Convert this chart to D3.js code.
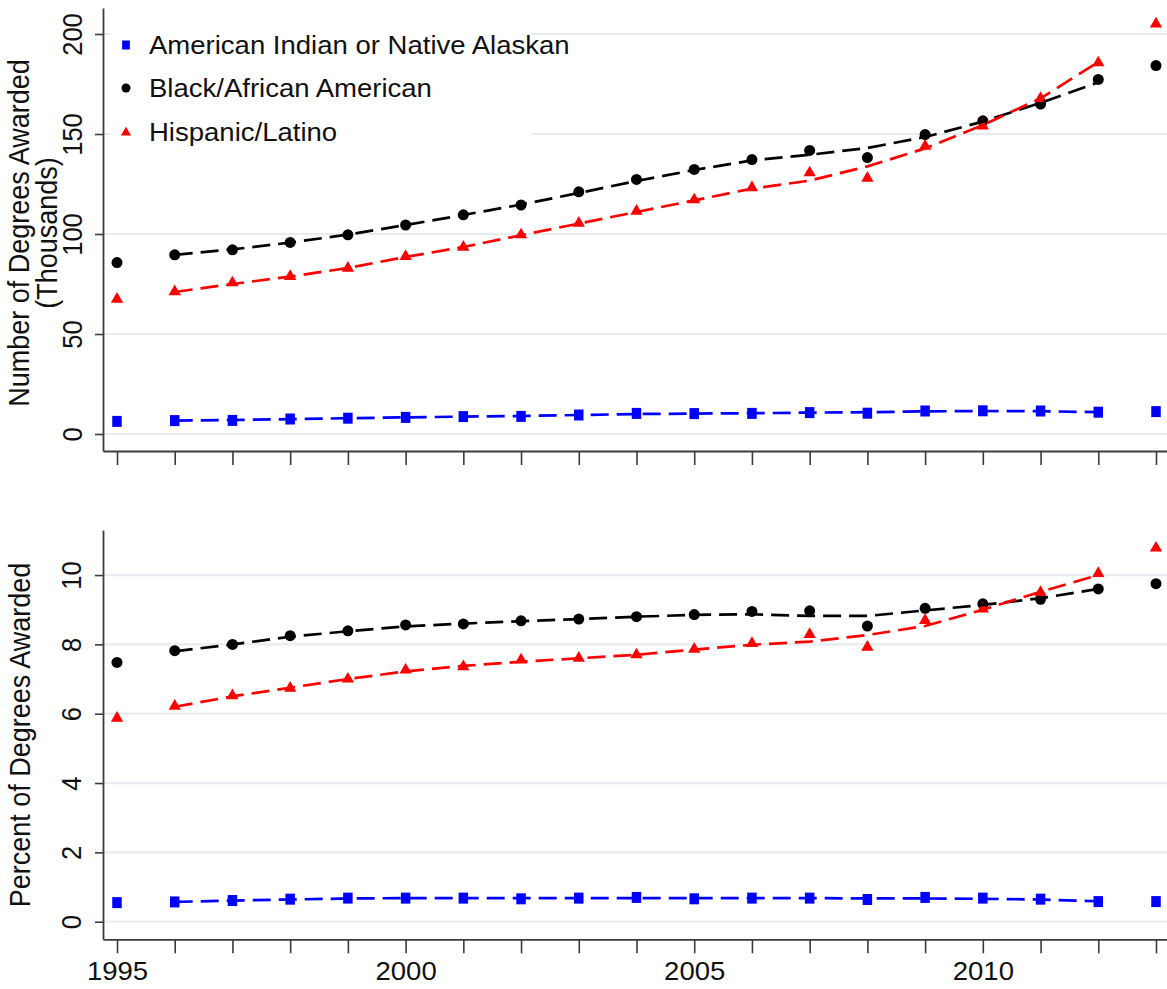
<!DOCTYPE html>
<html>
<head>
<meta charset="utf-8">
<script src="https://cdn.jsdelivr.net/npm/d3@7"></script>
<style>
  html, body { margin: 0; padding: 0; background: #fff; }
  svg { display: block; }
  text { font-family: "Liberation Sans", Arial, Helvetica, sans-serif; fill: #111; }
</style>
</head>
<body>
<svg id="chart" width="1167" height="989"></svg>
<script>
// ---- Data: degrees awarded by race/ethnicity, 1995-2013 ----
const years = [1995, 1996, 1997, 1998, 1999, 2000, 2001, 2002, 2003, 2004,
               2005, 2006, 2007, 2008, 2009, 2010, 2011, 2012, 2013];
const trendYears = [1996, 1997, 1998, 1999, 2000, 2001, 2002, 2003, 2004,
                    2005, 2006, 2007, 2008, 2009, 2010, 2011, 2012];

const seriesNames = ["American Indian or Native Alaskan", "Black/African American", "Hispanic/Latino"];

// Number of degrees awarded (thousands)
const countAIAN     = [6.3, 6.7, 6.8, 7.5, 7.9, 8.3, 8.7, 8.8, 9.5, 10.3, 10.2, 10.3, 10.7, 10.4, 11.5, 11.6, 11.5, 10.9, 11.2];
const countBlack    = [85.7, 89.6, 92.1, 95.8, 99.6, 104.5, 109.6, 114.5, 121.1, 127.3, 132.3, 137.2, 141.8, 138.2, 149.7, 156.6, 165.0, 177.3, 184.2];
const countHispanic = [67.4, 71.2, 75.6, 78.8, 82.9, 88.8, 93.4, 99.6, 105.4, 111.4, 117.1, 123.2, 130.6, 127.9, 143.9, 154.0, 167.8, 185.6, 205.0];

// Smoothed trend of the counts
const countAIANTrend     = [6.7, 7.0, 7.4, 7.9, 8.3, 8.7, 9.0, 9.5, 10.0, 10.2, 10.4, 10.7, 10.9, 11.3, 11.5, 11.4, 10.9];
const countBlackTrend    = [89.6, 92.3, 95.7, 99.7, 104.5, 109.5, 114.7, 120.5, 126.5, 132.0, 136.8, 139.6, 143.0, 148.5, 156.2, 165.6, 175.8];
const countHispanicTrend = [71.0, 75.0, 78.7, 83.0, 88.5, 93.5, 99.4, 105.2, 111.0, 116.8, 122.7, 126.7, 133.8, 142.8, 154.5, 167.8, 186.0];

// Percent of all degrees awarded
const pctAIAN     = [0.55, 0.57, 0.61, 0.65, 0.68, 0.68, 0.68, 0.66, 0.68, 0.70, 0.66, 0.68, 0.68, 0.64, 0.70, 0.68, 0.65, 0.58, 0.58];
const pctBlack    = [7.48, 7.82, 8.00, 8.25, 8.39, 8.56, 8.59, 8.68, 8.73, 8.80, 8.86, 8.95, 8.97, 8.53, 9.04, 9.17, 9.30, 9.60, 9.75];
const pctHispanic = [5.87, 6.22, 6.52, 6.74, 7.00, 7.26, 7.36, 7.55, 7.60, 7.70, 7.86, 8.03, 8.29, 7.92, 8.69, 9.02, 9.50, 10.05, 10.78];

// Smoothed trend of the percentages
const pctAIANTrend     = [0.57, 0.61, 0.64, 0.67, 0.68, 0.68, 0.68, 0.68, 0.68, 0.68, 0.68, 0.68, 0.67, 0.67, 0.66, 0.64, 0.59];
const pctBlackTrend    = [7.80, 8.00, 8.22, 8.38, 8.52, 8.60, 8.67, 8.73, 8.80, 8.85, 8.87, 8.82, 8.82, 8.98, 9.14, 9.33, 9.60];
const pctHispanicTrend = [6.20, 6.50, 6.75, 7.00, 7.22, 7.38, 7.50, 7.60, 7.70, 7.85, 7.99, 8.08, 8.27, 8.53, 9.00, 9.52, 10.00];

const countTicks = [0, 50, 100, 150, 200];
const pctTicks = [0, 2, 4, 6, 8, 10];
const yearLabels = [1995, 2000, 2005, 2010];

// ---- Layout ----
const svg = d3.select("#chart");
const W = 1167;
const axisX = 103;
const stretch = 1.08; // horizontal text stretch

const colors = ["#0000ff", "#000000", "#ff0000"];
const gridColor = "#e5edf1";
const axisColor = "#3c3c3c";

const x = d3.scaleLinear().domain([1995, 2013]).range([117, 1156]);
const xFull = x.copy().domain([x.invert(axisX), x.invert(W)]).range([axisX, W]);

const panels = [
  {
    y: d3.scaleLinear().domain([-8.5, 213]).range([451, 8]),
    ticks: countTicks,
    values: [countAIAN, countBlack, countHispanic],
    trends: [countAIANTrend, countBlackTrend, countHispanicTrend],
    showYearLabels: false,
    titles: [{ text: "Number of Degrees Awarded", x: 29 }, { text: "(Thousands)", x: 57 }],
    titleY: 233,
    tickLabelOffset: 21
  },
  {
    y: d3.scaleLinear().domain([-0.508, 11.3]).range([939.3, 530]),
    ticks: pctTicks,
    values: [pctAIAN, pctBlack, pctHispanic],
    trends: [pctAIANTrend, pctBlackTrend, pctHispanicTrend],
    showYearLabels: true,
    titles: [{ text: "Percent of Degrees Awarded", x: 30 }],
    titleY: 735,
    tickLabelOffset: 22
  }
];

// Marker shapes
function marker(sel, kind, scale) {
  const s = scale || 1;
  if (kind === 0) {
    const w = 9.5 * s, h = 11 * s;
    sel.append("rect").attr("x", -w / 2).attr("y", -h / 2).attr("width", w).attr("height", h)
      .attr("fill", colors[0]);
  } else if (kind === 1) {
    sel.append("circle").attr("r", 5.5 * s).attr("fill", colors[1]);
  } else {
    sel.append("path").attr("d", d3.symbol(d3.symbolTriangle, 66 * s * s)()).attr("fill", colors[2]);
  }
}

panels.forEach(p => {
  const g = svg.append("g");
  const yBottom = p.y.range()[0];

  // gridlines
  g.append("g").selectAll("line").data(p.ticks).join("line")
    .attr("x1", axisX).attr("x2", W)
    .attr("y1", d => p.y(d)).attr("y2", d => p.y(d))
    .attr("stroke", gridColor).attr("stroke-width", 2.2);

  // y axis
  const yAxis = g.append("g").attr("transform", `translate(${axisX},0)`)
    .call(d3.axisLeft(p.y).tickValues(p.ticks).tickSize(8).tickSizeOuter(0));
  yAxis.select(".domain").attr("stroke", axisColor).attr("stroke-width", 1.8);
  yAxis.selectAll(".tick line").attr("stroke", axisColor).attr("stroke-width", 1.6);
  yAxis.selectAll(".tick text")
    .attr("x", null).attr("dy", null)
    .attr("text-anchor", "middle")
    .attr("transform", `translate(${-p.tickLabelOffset},0) rotate(-90) scale(1,${stretch})`)
    .style("font-size", "25.5px").style("fill", "#111");

  // x axis
  const xAxis = g.append("g").attr("transform", `translate(0,${yBottom})`)
    .call(d3.axisBottom(xFull).tickValues(years).tickSize(14).tickSizeOuter(0)
      .tickFormat(d => (p.showYearLabels && yearLabels.includes(d)) ? String(d) : ""));
  xAxis.select(".domain").attr("stroke", axisColor).attr("stroke-width", 1.8);
  xAxis.selectAll(".tick line").attr("stroke", axisColor).attr("stroke-width", 1.6);
  xAxis.selectAll(".tick text")
    .attr("y", null).attr("dy", null)
    .attr("transform", `translate(0,41) scale(${stretch},1)`)
    .style("font-size", "25.5px").style("fill", "#111");

  // axis titles
  p.titles.forEach(t => {
    g.append("text")
      .attr("text-anchor", "middle")
      .attr("transform", `translate(${t.x},${p.titleY}) rotate(-90) scale(1,${stretch})`)
      .style("font-size", "27px")
      .text(t.text);
  });

  // markers
  p.values.forEach((vals, k) => {
    g.append("g").selectAll("g").data(years).join("g")
      .attr("transform", (d, i) => `translate(${x(d)},${p.y(vals[i])})`)
      .each(function () { marker(d3.select(this), k, 1); });
  });

  // dashed trend lines
  p.trends.forEach((vals, k) => {
    const line = d3.line().x((d, i) => x(trendYears[i])).y(d => p.y(d));
    g.append("path").datum(vals)
      .attr("d", line)
      .attr("fill", "none")
      .attr("stroke", colors[k])
      .attr("stroke-width", 2.7)
      .attr("stroke-dasharray", "18,8");
  });
});

// ---- Legend (top panel) ----
const legend = svg.append("g");
legend.append("rect").attr("x", 110).attr("y", 12).attr("width", 421).attr("height", 148).attr("fill", "#fff");
const legendRowY = [45, 88, 132.5];
seriesNames.forEach((name, k) => {
  const row = legend.append("g").attr("transform", `translate(126,${legendRowY[k]})`);
  marker(row, k, 0.82);
  row.append("text")
    .attr("transform", `translate(23,${8.8}) scale(${stretch},1)`)
    .style("font-size", "25.5px")
    .text(name);
});
</script>
</body>
</html>
